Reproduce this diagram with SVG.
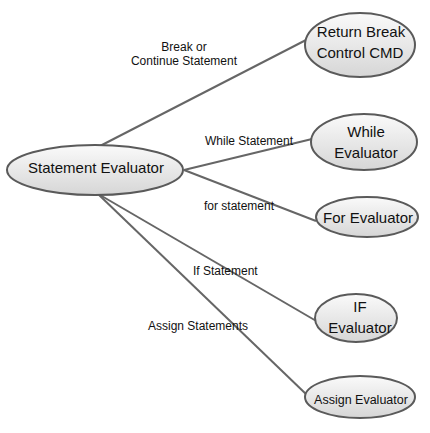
<svg xmlns="http://www.w3.org/2000/svg" width="430" height="433" viewBox="0 0 430 433">
<defs>
<linearGradient id="g" x1="0" y1="0" x2="0" y2="1">
<stop offset="0" stop-color="#fafafa"/>
<stop offset="1" stop-color="#d6d6d6"/>
</linearGradient>
</defs>
<style>
.n{fill:url(#g);stroke:#5a5a5a;stroke-width:2}
.t{font-family:"Liberation Sans",Arial,sans-serif;font-size:15px;fill:#111;text-anchor:middle}
.s{font-size:12.5px}
.l{font-family:"Liberation Sans",Arial,sans-serif;font-size:12px;fill:#111}
.c{stroke:#666;stroke-width:2;fill:none}
</style>
<rect width="430" height="433" fill="#fff"/>
<g id="connectors">
<line class="c" x1="100" y1="146" x2="306" y2="40"/>
<line class="c" x1="184" y1="170" x2="312" y2="139"/>
<line class="c" x1="184" y1="170" x2="316" y2="221"/>
<line class="c" x1="100" y1="195" x2="318" y2="322"/>
<line class="c" x1="98" y1="194" x2="307" y2="395"/>
<text class="l" x="184" y="51" text-anchor="middle">Break or</text>
<text class="l" x="184" y="65" text-anchor="middle">Continue Statement</text>
<text class="l" x="205" y="145">While Statement</text>
<text class="l" x="204" y="210">for statement</text>
<text class="l" x="193" y="275">If Statement</text>
<text class="l" x="148" y="330">Assign Statements</text>
</g>
<g id="statement-evaluator">
<ellipse class="n" cx="95" cy="170" rx="88" ry="25"/>
<text class="t" x="96" y="173">Statement Evaluator</text>
</g>
<g id="return-break">
<ellipse class="n" cx="360" cy="45" rx="55" ry="32"/>
<text class="t" x="361" y="37">Return Break</text>
<text class="t" x="360" y="58">Control CMD</text>
</g>
<g id="while-evaluator">
<ellipse class="n" cx="364" cy="142" rx="53" ry="28"/>
<text class="t" x="366" y="137">While</text>
<text class="t" x="366" y="158">Evaluator</text>
</g>
<g id="for-evaluator">
<ellipse class="n" cx="367" cy="217" rx="51" ry="20"/>
<text class="t" x="368" y="223">For Evaluator</text>
</g>
<g id="if-evaluator">
<ellipse class="n" cx="356" cy="318" rx="41" ry="24"/>
<text class="t" x="360" y="312">IF</text>
<text class="t" x="360" y="333">Evaluator</text>
</g>
<g id="assign-evaluator">
<ellipse class="n" cx="360" cy="397" rx="55" ry="21"/>
<text class="t s" x="361" y="404">Assign Evaluator</text>
</g>
</svg>
